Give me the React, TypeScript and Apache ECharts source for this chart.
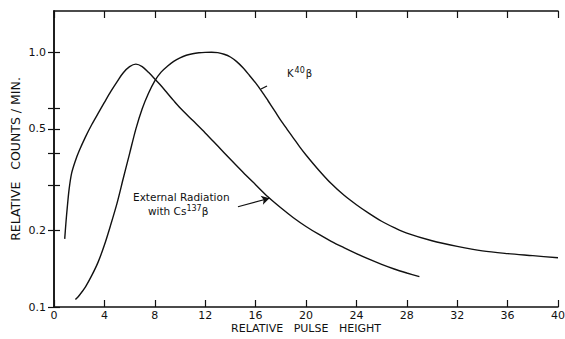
import React, { useEffect, useRef } from "react";
import * as echarts from "echarts";

const xTicks = [0, 4, 8, 12, 16, 20, 24, 28, 32, 36, 40];
const yLabelValues = [0.1, 0.2, 0.5, 1.0];
const yLabelTexts = ["0.1", "0.2", "0.5", "1.0"];
const yTickValues = [0.1, 0.2, 0.3, 0.4, 0.5, 0.6, 1.0];

const cs137X = [0.85, 0.95, 1.05, 1.2, 1.4, 1.7, 2.0, 2.5, 3.0, 3.5, 4.0, 4.5, 5.0, 5.5, 6.0, 6.5, 7.0, 7.5, 8.0, 8.5, 9.0, 9.5, 10, 11, 12, 13, 14, 15, 16, 17, 18, 19, 20, 21, 22, 23, 24, 25, 26, 27, 28, 29];
const cs137Y = [0.185, 0.215, 0.245, 0.29, 0.335, 0.375, 0.41, 0.465, 0.52, 0.575, 0.635, 0.7, 0.765, 0.83, 0.877, 0.897, 0.877, 0.833, 0.785, 0.738, 0.69, 0.645, 0.605, 0.54, 0.482, 0.428, 0.38, 0.338, 0.302, 0.27, 0.245, 0.224, 0.207, 0.193, 0.181, 0.171, 0.162, 0.154, 0.147, 0.141, 0.136, 0.1315];

const k40X = [1.7, 2.0, 2.5, 3.0, 3.5, 4.0, 4.5, 5.0, 5.5, 6.0, 6.5, 7.0, 7.5, 8.0, 8.5, 9.0, 9.5, 10.0, 10.5, 11.0, 11.5, 12.0, 12.5, 13.0, 13.5, 14.0, 14.5, 15.0, 15.5, 16.0, 16.5, 17.0, 17.5, 18.0, 18.5, 19.0, 19.5, 20, 21, 22, 23, 24, 25, 26, 27, 28, 30, 32, 34, 36, 38, 40];
const k40Y = [0.107, 0.111, 0.12, 0.133, 0.15, 0.175, 0.21, 0.255, 0.32, 0.4, 0.5, 0.6, 0.69, 0.772, 0.835, 0.88, 0.92, 0.95, 0.972, 0.986, 0.994, 0.998, 0.999, 0.995, 0.981, 0.957, 0.918, 0.868, 0.812, 0.757, 0.7, 0.643, 0.59, 0.54, 0.498, 0.46, 0.425, 0.395, 0.345, 0.305, 0.275, 0.252, 0.233, 0.217, 0.205, 0.195, 0.182, 0.173, 0.166, 0.162, 0.159, 0.156];

const arrowFrom = [14.6, 0.2475];
const arrowTo = [17.1, 0.267];

const FONT = "DejaVu Sans";
const INK = "#111";

export default function App() {
  const ref = useRef<HTMLDivElement>(null);
  useEffect(() => {
    document.body.style.margin = "0";
    if (!ref.current) return;
    const chart = echarts.init(ref.current, null, { renderer: "svg" });
    const pair = (xs: number[], ys: number[]) => xs.map((x, i) => [x, ys[i]]);
    const xAxisBase = {
      type: "value" as const,
      min: 0,
      max: 40,
      interval: 4,
      splitLine: { show: false },
      axisLine: { show: true, lineStyle: { color: INK, width: 1.5 } },
      axisTick: { show: true, inside: true, length: 7, lineStyle: { color: INK, width: 1.2 } },
    };
    const yAxisBase = {
      type: "log" as const,
      logBase: 10,
      min: 0.1,
      max: 1.45,
      splitLine: { show: false },
      minorTick: { show: false },
      axisLine: { show: true, lineStyle: { color: INK, width: 1.5 } },
      axisTick: {
        show: true,
        inside: true,
        length: 6,
        customValues: yTickValues,
        lineStyle: { color: INK, width: 1.2 },
      },
    };
    chart.setOption({
      animation: false,
      backgroundColor: "#fff",
      grid: { left: 54, right: 7, top: 11, bottom: 32, containLabel: false, outerBoundsMode: "none" },
      xAxis: [
        {
          ...xAxisBase,
          position: "bottom",
          axisLabel: {
            color: INK,
            fontFamily: FONT,
            fontSize: 11,
            margin: 3,
            customValues: xTicks,
          },
          name: "RELATIVE   PULSE   HEIGHT",
          nameLocation: "middle",
          nameGap: 16,
          nameMoveOverlap: false,
          nameTextStyle: { color: INK, fontFamily: FONT, fontSize: 11 },
        },
        {
          ...xAxisBase,
          position: "top",
          axisLabel: { show: false },
        },
      ],
      yAxis: [
        {
          ...yAxisBase,
          position: "left",
          axisLabel: {
            color: INK,
            fontFamily: FONT,
            fontSize: 11,
            margin: 8,
            customValues: yLabelValues,
            formatter: (v: number) => {
              const i = yLabelValues.findIndex((u) => Math.abs(u - v) < 1e-6);
              return i >= 0 ? yLabelTexts[i] : "";
            },
          },
          name: "RELATIVE   COUNTS / MIN.",
          nameLocation: "middle",
          nameGap: 32,
          nameMoveOverlap: false,
          nameRotate: 90,
          nameTextStyle: { color: INK, fontFamily: FONT, fontSize: 12.5 },
        },
        {
          ...yAxisBase,
          position: "right",
          axisLabel: { show: false },
        },
      ],
      series: [
        {
          name: "External Radiation with Cs137β",
          type: "line",
          data: pair(cs137X, cs137Y),
          smooth: 0.3,
          showSymbol: false,
          lineStyle: { color: INK, width: 1.4 },
          markLine: {
            silent: true,
            symbol: ["none", "arrow"],
            symbolSize: [7, 8],
            label: { show: false },
            lineStyle: { color: INK, width: 1.1, type: "solid" },
            data: [[{ coord: arrowFrom }, { coord: arrowTo }]],
          },
        },
        {
          name: "K40β",
          type: "line",
          data: pair(k40X, k40Y),
          smooth: 0.3,
          showSymbol: false,
          lineStyle: { color: INK, width: 1.4 },
        },
      ],
      graphic: [
        {
          type: "text",
          left: 133,
          top: 191,
          style: {
            text: "External Radiation",
            fontFamily: FONT,
            fontSize: 10.5,
            fill: INK,
          },
        },
        {
          type: "text",
          left: 148,
          top: 204,
          style: {
            text: "with Cs{sup|137}β",
            fontFamily: FONT,
            fontSize: 10.5,
            fill: INK,
            rich: {
              sup: { fontSize: 8, padding: [0, 0, 5, 0], fontFamily: FONT, fill: INK },
            },
          },
        },
        {
          type: "text",
          left: 287,
          top: 66,
          style: {
            text: "K{sup|40}β",
            fontFamily: FONT,
            fontSize: 10,
            fill: INK,
            rich: {
              sup: { fontSize: 8, padding: [0, 1, 6, 1], fontFamily: FONT, fill: INK },
            },
          },
        },
        {
          type: "line",
          shape: { x1: 261, y1: 89, x2: 267, y2: 86 },
          style: { stroke: INK, lineWidth: 1.3 },
        },
      ],
    });
    return () => chart.dispose();
  }, []);
  return <div ref={ref} style={{ width: 565, height: 339 }} />;
}
